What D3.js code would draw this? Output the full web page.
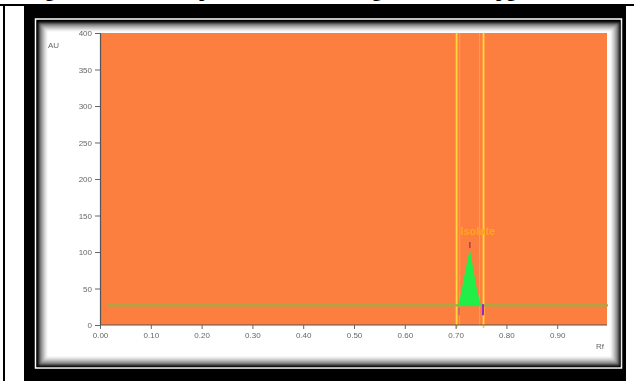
<!DOCTYPE html>
<html>
<head>
<meta charset="utf-8">
<script src="https://cdn.jsdelivr.net/npm/d3@7/dist/d3.min.js"></script>
<style>
  html, body { margin: 0; padding: 0; background: #fff; }
  svg { display: block; }
</style>
</head>
<body>
<script>
// Densitogram: absorbance (AU) against Rf for one track
const yTickValues = [0, 50, 100, 150, 200, 250, 300, 350, 400];
const xTickValues = [0, 0.1, 0.2, 0.3, 0.4, 0.5, 0.6, 0.7, 0.8, 0.9];
const peakRf   = [0.705, 0.712, 0.720, 0.728, 0.735, 0.742, 0.750];
const peakAU   = [27, 48, 78, 104, 76, 48, 27];
const baselineRf = [0.014, 1.0];
const baselineAU = [27, 27];
const windowRf = [0.702, 0.755];
const peakName = "Isolate";
const titleParts = ["Fig. 4: Densitometric", "peak of the isolated", "gallic acid at", "pg/band"];

const W = 634, H = 381;
const svg = d3.select("body").append("svg").attr("width", W).attr("height", H);
const defs = svg.append("defs");
defs.append("filter").attr("id", "soft")
  .append("feGaussianBlur").attr("stdDeviation", 0.6);
defs.append("filter").attr("id", "softer")
  .append("feGaussianBlur").attr("stdDeviation", 1.0);

svg.append("rect").attr("width", W).attr("height", H).attr("fill", "#fff");

// Caption line, sitting above the top edge so mostly its descenders show
const cap = svg.append("text")
  .attr("y", -3)
  .attr("font-family", "Liberation Serif, Times New Roman, serif")
  .attr("font-weight", "bold")
  .attr("font-size", 19)
  .attr("fill", "#000");
const capX = [28, 199, 372, 496];
titleParts.forEach((t, i) => cap.append("tspan").attr("x", capX[i]).text(t));

// Table cell borders
svg.append("line").attr("x1", 0).attr("x2", W).attr("y1", 5).attr("y2", 5)
  .attr("stroke", "#000").attr("stroke-width", 2);
svg.append("line").attr("x1", 4).attr("x2", 4).attr("y1", 5).attr("y2", H)
  .attr("stroke", "#000").attr("stroke-width", 2);

// Black picture frame
svg.append("rect").attr("x", 24).attr("y", 6).attr("width", 602).attr("height", H - 6)
  .attr("fill", "#000");
svg.append("rect").attr("x", 35.5).attr("y", 19).attr("width", 586).attr("height", 349)
  .attr("fill", "none").attr("stroke", "#fff").attr("stroke-width", 1.5);

// Bevelled panel: layered rects from dark edge to white centre
const bevel = d3.interpolateRgb("#1a1a1a", "#ffffff");
const steps = 9;
const panelG = svg.append("g").attr("filter", "url(#softer)");
for (let i = 0; i <= steps; i++) {
  const inset = i;
  panelG.append("rect")
    .attr("x", 38 + inset).attr("y", 22 + inset)
    .attr("width", 582 - 2 * inset).attr("height", 344 - 2 * inset)
    .attr("fill", bevel(Math.pow(i / steps, 0.6)));
}

// Scales
const x = d3.scaleLinear().domain([0, 1.0]).range([100, 608]);
const y = d3.scaleLinear().domain([0, 400]).range([325, 33]);

const chart = svg.append("g").attr("filter", "url(#soft)");

// Plot background
chart.append("rect")
  .attr("x", x(0)).attr("y", y(400))
  .attr("width", x(1.0) - x(0) - 1).attr("height", y(0) - y(400))
  .attr("fill", "#fd7f40");

// Integration window lines
chart.selectAll("line.win").data(windowRf).enter().append("line")
  .attr("class", "win")
  .attr("x1", d => x(d)).attr("x2", d => x(d))
  .attr("y1", y(400)).attr("y2", y(0) + 3)
  .attr("stroke", "#ffd83a").attr("stroke-width", 1.8);
chart.selectAll("line.winf").data(windowRf).enter().append("line")
  .attr("class", "winf")
  .attr("x1", (d, i) => x(d) + (i === 0 ? 3 : -4)).attr("x2", (d, i) => x(d) + (i === 0 ? 3 : -4))
  .attr("y1", y(400)).attr("y2", y(0))
  .attr("stroke", "#ffb060").attr("stroke-width", 1).attr("opacity", 0.6);

// Baseline
chart.append("path")
  .datum(baselineRf.map((r, i) => [r, baselineAU[i]]))
  .attr("d", d3.line().x(d => x(d[0])).y(d => y(d[1])))
  .attr("stroke", "#9fae45").attr("stroke-width", 2.2).attr("fill", "none");

// Peak area
const peak = peakRf.map((r, i) => [r, peakAU[i]]);
chart.append("path")
  .datum(peak)
  .attr("d", d3.area().x(d => x(d[0])).y0(y(baselineAU[0])).y1(d => y(d[1])))
  .attr("fill", "#22ee48");

// Peak markers: apex, start, end
const apex = peak[d3.maxIndex(peakAU)];
chart.append("line")
  .attr("x1", x(apex[0])).attr("x2", x(apex[0]))
  .attr("y1", y(apex[1]) - 7).attr("y2", y(apex[1]) - 1)
  .attr("stroke", "#b03c6a").attr("stroke-width", 1.6);
chart.append("line")
  .attr("x1", x(peakRf[0]) + 1).attr("x2", x(peakRf[0]) + 1)
  .attr("y1", y(peakAU[0]) + 2).attr("y2", y(peakAU[0]) + 10)
  .attr("stroke", "#c86088").attr("stroke-width", 1.5);
chart.append("line")
  .attr("x1", x(peakRf[peakRf.length - 1]) + 2).attr("x2", x(peakRf[peakRf.length - 1]) + 2)
  .attr("y1", y(peakAU[peakAU.length - 1]) - 1).attr("y2", y(peakAU[peakAU.length - 1]) + 10)
  .attr("stroke", "#9a20d0").attr("stroke-width", 2);

// Peak name
chart.append("text")
  .attr("x", x(apex[0]) + 8).attr("y", y(apex[1]) - 14)
  .attr("text-anchor", "middle")
  .attr("font-family", "Liberation Sans, Arial, sans-serif")
  .attr("font-weight", "bold")
  .attr("font-size", 11)
  .attr("fill", "#ffa51e")
  .text(peakName);

// Axes
const yAxis = d3.axisLeft(y).tickValues(yTickValues).tickSize(5).tickPadding(3)
  .tickFormat(d3.format("d"));
const xAxis = d3.axisBottom(x).tickValues(xTickValues).tickSize(4).tickPadding(3)
  .tickFormat(d3.format(".2f"));

const gy = chart.append("g").attr("transform", `translate(${x(0)},0)`).call(yAxis);
const gx = chart.append("g").attr("transform", `translate(0,${y(0)})`).call(xAxis);
[gx, gy].forEach(g => {
  g.select(".domain").attr("stroke", "#555").attr("stroke-width", 1.2);
  g.selectAll(".tick line").attr("stroke", "#666");
  g.selectAll("text").attr("fill", "#666")
    .attr("font-family", "Liberation Sans, Arial, sans-serif")
    .attr("font-size", 8);
});
gx.select(".domain").attr("d", `M${x(0)},0H${x(1.0) - 1}`);

chart.append("text").attr("x", 48).attr("y", 48)
  .attr("font-family", "Liberation Sans, Arial, sans-serif").attr("font-size", 8)
  .attr("fill", "#666").text("AU");
chart.append("text").attr("x", 596).attr("y", 349)
  .attr("font-family", "Liberation Sans, Arial, sans-serif").attr("font-size", 8)
  .attr("fill", "#666").text("Rf");
</script>
</body>
</html>
